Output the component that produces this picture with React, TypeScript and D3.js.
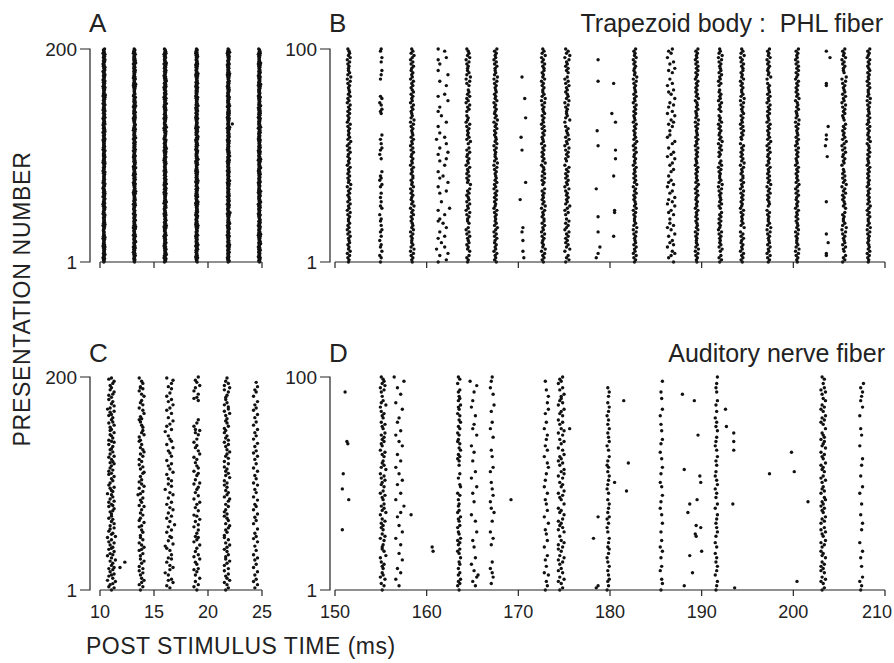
import React from "react";
import * as d3 from "d3";

// each band: centre time (ms), jitter half-width (ms), one character per presentation
// (bottom = presentation 1). "." = no spike, 0-9 = position inside the band.

// A: trapezoid body (PHL) fiber, 200 presentations
const bandsA = [
  { t: 10.37, s: 0.16, code: "4536254735 5463726354 4627354453 3546273645 5364725346 4735263547 5264736452 3647253645 4563724536 5472635473 6354725364 4536274536 5274635427 3645274563 4726354725 5364728354 4637254637 2546374526 6473524637 5364725436" },
  { t: 13.18, s: 0.16, code: "5463547362 4537264538 6354726453 4728364537 5364725463 3547265374 6453728456 4637254736 5273645382 4657364527 3546275364 6374528463 5462735476 4536274653 7354628457 3645723654 5463728354 4726354637 5364528473 6354725364" },
  { t: 16.02, s: 0.16, code: "3647253846 5473625374 4635274653 5372846357 4653726453 3746528364 5463725637 4528364735 6354726453 5473625374 4637258364 5364723546 6473528463 3546274635 5473625384 4637254736 6352746358 4736254637 5364728453 4635274653" },
  { t: 18.95, s: 0.16, code: "6453726453 5374628463 4635274536 5473826354 3647253746 5463728453 4726354637 6354728463 5463726354 4736258463 5364724537 4635274863 5374628354 6453725463 4736258364 5463724536 3647254736 5463728453 4536274653 5473625364" },
  { t: 21.88, s: 0.16, code: "4735264537 5364728463 6453724635 4736258364 5463729453 3647254736 5274635463 4637258354 6354726463 4536274538 5473625364 4637254736 6354728453 5463724637 3746528463 5364725436 4736254637 5463728364 4635274536 6473528364" },
  { t: 24.75, s: 0.16, code: "5364725463 4736254837 5463728364 3647254736 6453725463 4736258463 5374628354 4635274536 5473625384 6354728463 4637254736 5463725364 3746528463 5364724637 4736258354 6453725463 5364728436 4637254736 5463728354 4536274653" },
];
const strayA: [number, number][] = [[22.25, 130]];

// B: same fiber, 150-210 ms, 100 presentations
const bandsB = [
  { t: 151.5, s: 0.28, code: "4536274536 5473625364 4637254736 5364728453 6354725463 4736258364 5463724536 3647253746 5463728364 4536274653" },
  { t: 155.0, s: 0.35, code: "4.53.6.45. 3.5.46.5.4 5.3..64.5. 4.5..46.35 4.6.....5. 3.46.5.4.6 .........5 46.53.64.. .....4.5.6 ...5.6..45" },
  { t: 158.4, s: 0.28, code: "5463728364 4536274653 5374628463 4635274536 6354725463 4736254736 5463728354 3647254637 5364725463 4736258364" },
  { t: 161.7, s: 0.8, code: "27.38.16.4 .26.3.7.52 3.6.29..4. ..37.2.8.3 5.2..6.37. 28.3.7.16. 3..2.7..4. 2.3..8.26. ..7.3..8.2 ..3.27..62" },
  { t: 164.5, s: 0.35, code: "4536.74536 5473625.64 4637254736 53647.8453 6354725463 4736.58364 546372453. 3647253746 5.63728364 4536274653" },
  { t: 167.5, s: 0.28, code: "6354725463 4736258364 5463724536 3647253746 5463728364 4536274653 5374628463 4635274536 5463728354 4736254637" },
  { t: 172.7, s: 0.3, code: "5364728453 4637254736 6354728463 54637.4637 3746528463 5364725436 4736254637 5463728364 4635274536 6473528364" },
  { t: 175.3, s: 0.4, code: "3746.28463 5364724637 4.36258354 6453725463 536472.436 4637254736 5463.28354 4536274653 5473625.64 6354728463" },
  { t: 182.7, s: 0.28, code: "4637254736 5463728364 4536274653 5374628463 6354725463 4736258364 5364725436 3647254736 5463728453 4635274536" },
  { t: 186.6, s: 0.6, code: "7.3586.274 6.38.5274. 4.735.8263 8.46.2735. 3.57.46.82 57.3.68.24 .4.6375.82 6.374.8.53 7.26.4..63 8.47.2.536" },
  { t: 189.45, s: 0.25, code: "5463728364 4536274653 6354725463 4736258364 5364725436 4637254736 5463728354 3746528463 5364724637 4736254637" },
  { t: 192.0, s: 0.3, code: "4736.58364 5463724536 3647.53746 5463728364 45362746.3 5374628463 463527453. 6354725463 4.36254736 5463728354" },
  { t: 194.4, s: 0.3, code: "5364725463 47362.8364 5463724536 4637254736 6354728463 536472.436 4736254637 5463728364 4635274536 6473528364" },
  { t: 197.3, s: 0.3, code: "4637254736 5463728364 45362.4653 5374628463 6354725463 4736258364 5364725436 3647254736 5463.28453 4635274536" },
  { t: 200.4, s: 0.28, code: "5463728364 4536274653 6354725463 4736258364 5364725436 4637254736 5463728354 3746528463 5364724637 4736254637" },
  { t: 205.5, s: 0.35, code: "3647.54736 5463728364 4536.74653 5374628463 6354.25463 4736258364 53647.5436 4637254736 5463728.54 4635274536" },
  { t: 208.2, s: 0.25, code: "4536274653 5463728364 4736258364 6354725463 5364725436 3746528463 4637254736 5463728354 4736254637 5364724637" },
];
const strayB: [number, number][] = [
  [170.4, 87], [170.7, 77], [170.8, 68], [170.3, 59], [170.4, 53], [170.8, 38], [170.2, 30], [170.5, 17], [170.4, 15], [170.5, 11], [170.5, 6], [170.6, 3],
  [178.7, 95], [178.7, 85], [178.6, 62], [178.7, 55], [178.5, 35], [178.7, 22], [178.7, 15], [178.9, 8], [178.7, 5], [178.5, 3],
  [180.4, 84], [180.2, 70], [180.6, 66], [180.6, 53], [180.6, 49], [180.4, 41], [180.5, 25], [180.5, 24], [180.4, 13],
  [203.6, 99], [204.0, 96], [203.6, 84], [203.6, 83], [203.8, 64], [203.6, 60], [203.6, 58], [203.5, 55], [203.7, 50], [203.6, 29], [203.6, 14], [203.8, 10], [203.6, 5], [203.6, 4],
];

// C: auditory nerve fiber, 200 presentations
const bandsC = [
  { t: 11.0, s: 0.55, code: "5.73.46.82 .6.357.4.6 37.5.6.48. 5.264.7.35 6.4.73.5.2 8.56.3.47. 4.7.5.63.5 .5.46.7.36 5.37.4.6.5 2.65.47.3. 4.6.5.7.35 .36.4.5.74 6.5.37.4.6 .45.6.3.75 3.6.54.7.4 5.4.7.36.5 .6.35.47.2 4.7.5.6.3. 5.36.7.4.5 .4.6.7.35." },
  { t: 13.8, s: 0.5, code: "4..6.3.5.7 .5..4.6.3. 6.3..5.7.4 ..4.6..35. 7.5.3..6.4 .4..6.5..3 5..7.3.4.. 6.4..5..73 ..5.4.6..2 4.6..3.7.5 .3.5..4..6 7..4.6.3.. 5.3..6.4.7 .6.4..5..3 4..3.7.5.6 ..6.5..4.3 5.4..7..6. 3..6.4.5.. .7.5..3.64 4..6.5..3." },
  { t: 16.4, s: 0.65, code: "..5.3..7.4 6...4.2..5 .7.5..3..6 4..6...5.3 .2.7..4..6 5...3.6..4 .8..5..3.6 ..4..7.5.. 3.6...4..7 .5..2..6.4 ..6.4...3. 7..5..4.6. .3...6..5. 4..7..3..6 .5..4...2. 6..3.5..7. .4...6..3. 5..7..4.6. .3..5...6. 4..6..7.3." },
  { t: 18.9, s: 0.6, code: "5..3.6..4. .7..4..5.3 6...5.4..7 .3.6..4..5 ..7..3.5.6 4..5..6..3 .6..4.7..5 3...6..4.. 5.7..3..6. .4..5.6..3 7..4...5.6 .3..6.5..4 ..5.3..7.. 6..4.5..3. .5...6.4.7 4..3..5..6 .......... .......6.3 5..6..3..4 .7..5.4..6" },
  { t: 21.7, s: 0.55, code: "4.6..5.3.7 .5.4.6..3. 6..3.5.7.4 .4.6..5.3. 5.7.4..6.3 .3..5.4.6. 7.4..6.5.3 .5.3.4..6. 4..6.7.3.5 .6.4..5.3. 5.3..7.4.6 .4.5.3..6. 3..6.4.5.7 .5..4.6.3. 6.4.5..3.4 .3.6..5.4. 5..4.7.3.6 .6.3.5..4. 4.5..6.3.7 .3.6.4..5." },
  { t: 24.4, s: 0.55, code: "..4..6..3. 5...4..6.. .3..5...4. 6..3...5.. .4...6..3. 5..4...6.. ..3..5..4. .6...3..5. 4...6..3.. .5..4...6. 3...5..4.. .6..3...5. ..4..6..3. 5...4..6.. .3..5..4.. 6...3..5.. .4..6...3. 5..4..6... .3...5.4.. 6...5....." },
];
const strayC: [number, number][] = [[11.85, 22], [12.3, 27]];

// D: auditory nerve fiber, 150-210 ms, 100 presentations
const bandsD = [
  { t: 155.2, s: 0.45, code: "4.63.7254. 5463.28.64 45.6274.53 5374.28463 6.54725.63 47362.8364 5.6472.436 4637.5473. 5463.2835. 4.36274653" },
  { t: 156.9, s: 0.8, code: "..5..3..6. 4...7..5.. .6..3..7.. 5...4.6..8 ..3..6...4 .7..5..3.. 6..4...7.5 ..3.6...4. 5...7..3.. .6..4..8.2" },
  { t: 163.5, s: 0.35, code: "5.3647.46. 4.65.7.536 .4637.54.3 6.547.35.4 5.4.63..76 ..4.6...5. 5364.75.63 4.53.64.75 .63.547.46 5.46..3.64" },
  { t: 165.1, s: 0.65, code: "..6.4.78.5 ..3..6.... 5..4...7.. ..6..3.... .5...4..7. ..3..6.... 4...5..3.. ..7..4.5.. .6...3..4. ..5..7.2.." },
  { t: 167.1, s: 0.45, code: "...4..6.5. 3..5...... .4..6..3.. ..5...7.4. .3..6..5.. 4....3.6.. ..5..4.... .6...3..5. ...4..7... .6..3..4.5" },
  { t: 173.0, s: 0.5, code: "4.6.5..73. .5..4.6... 3..6..5.4. .7..3..6.. 5.4..6..3. .4..5..7.6 ..3..6.4.. 5.6..3..5. ..4.7..6.. 7..5...4.." },
  { t: 174.6, s: 0.7, code: "46.5374.63 5.46374.53 6375.4.736 4536.7453. 7.54637.56 4.63757.46 3547.63.57 4.6375.463 .6457.3645 57.46.3546" },
  { t: 179.8, s: 0.35, code: "3.5.46.5.4 .6.4.3.5.6 4.5.6..4.3 .5.36.4.5. 6.4..5.3.4 .5.6.4.53. 4.6..5.3.6 .5.4.6.4.5 .3.5.6.4.. 5.6.4....." },
  { t: 185.6, s: 0.35, code: "4..6.5...3 .5...4..6. 3..5...4.. .6...5..3. .4..6...5. 3...4..6.. .5..3...4. 6...5..4.. .3..6....5 ..4....6.." },
  { t: 191.6, s: 0.35, code: "4.5.6..3.5 .6.4.5.3.. 5.3..4.6.5 .4.5.6..3. 6..4.5.3.6 .5.3.4..5. 4.6..5.3.4 .5..6.4.5. 3..5..4.6. ..5.4.5..6" },
  { t: 203.2, s: 0.55, code: "46.5374.63 5364.7453. 4637.54736 .3647.5463 5476.3645. 4735.64537 .5463.7456 3654.7.536 47.5364.75 .4736.5.64" },
  { t: 207.4, s: 0.45, code: "4.5.3.6... .5...4..6. ..3.....5. .6...4.... 5....3..6. ...4....5. .6.....3.. ..5..4.... .3...6..4. 5.6.4.7..." },
];
const strayD: [number, number][] = [
  [151.1, 93], [151.3, 70], [151.4, 69], [150.9, 55], [150.8, 48], [151.5, 43], [150.8, 29],
  [158.3, 36], [160.6, 21], [160.7, 19], [169.2, 43], [175.6, 76],
  [178.2, 25], [178.7, 35], [178.5, 2], [178.7, 3],
  [181.5, 89], [182.0, 60], [181.8, 47], [180.5, 51],
  [187.9, 92], [189.2, 89], [189.6, 73], [188.1, 57], [189.8, 54], [189.9, 51], [189.5, 43], [188.7, 41], [188.5, 37],
  [189.4, 31], [189.3, 27], [189.4, 26], [189.9, 30], [188.7, 17], [190.0, 19], [189.0, 9], [188.1, 3],
  [192.6, 85], [192.7, 77], [193.5, 74], [193.5, 70], [193.5, 66], [193.4, 41], [193.6, 2],
  [197.4, 55], [199.8, 65], [200.1, 56], [200.4, 5], [201.6, 42],
];

const ticksShort = [10, 15, 20, 25];
const ticksLong = [150, 160, 170, 180, 190, 200, 210];

const FONT = "'Liberation Sans', Arial, Helvetica, sans-serif";
const W = 894;

type Band = { t: number; s: number; code: string };

function toSpikes(bands: Band[], stray: [number, number][]) {
  const out: { t: number; n: number }[] = [];
  bands.forEach((b) => {
    const c = b.code.replace(/\s+/g, "");
    for (let i = 0; i < c.length; i++) {
      if (c[i] === ".") continue;
      const d = +c[i];
      out.push({ t: b.t + ((d - 4.5) / 4.5) * b.s, n: i + 1 });
    }
  });
  stray.forEach(([t, n]) => out.push({ t, n }));
  return out;
}

function Panel({ left, right, top, bottom, axisX, domain, ticks, trials, bands, stray, labels }: any) {
  const x = d3.scaleLinear().domain(domain).range([left, right]);
  const y = d3.scaleLinear().domain([1, trials]).range([bottom, top]);
  const spikes = toSpikes(bands, stray);
  return (
    <g>
      {spikes.map((d, i) => (
        <circle key={i} cx={x(d.t)} cy={y(d.n)} r={1.7} fill="#111" />
      ))}
      {/* y bracket */}
      <path
        d={`M${axisX - 10},${y(trials)}H${axisX}V${y(1)}H${axisX - 10}`}
        fill="none"
        stroke="#222"
        strokeWidth={1.2}
      />
      {[1, trials].map((v) => (
        <text key={v} x={axisX - 13} y={y(v)} dy="0.36em" textAnchor="end" fontSize={19} fontFamily={FONT} fill="#222">
          {v}
        </text>
      ))}
      {/* x axis */}
      <line x1={x(domain[0])} x2={x(domain[1])} y1={bottom} y2={bottom} stroke="#222" strokeWidth={1.2} />
      {ticks.map((v: number) => (
        <g key={v}>
          <line x1={x(v)} x2={x(v)} y1={bottom} y2={bottom + 6} stroke="#222" strokeWidth={1.2} />
          {labels && (
            <text x={Math.min(x(v), W - 17)} y={bottom + 28} textAnchor="middle" fontSize={18} fontFamily={FONT} fill="#222">
              {v}
            </text>
          )}
        </g>
      ))}
    </g>
  );
}

export default function App() {
  return (
    <svg width={894} height={663} style={{ position: "absolute", left: 0, top: 0, background: "#fff" }}>
      <rect width={894} height={663} fill="#fff" />
      <Panel left={100} right={262} top={49} bottom={262} axisX={90} domain={[10, 25]} ticks={ticksShort} trials={200} bands={bandsA} stray={strayA} labels={false} />
      <Panel left={335} right={885} top={49} bottom={262} axisX={330} domain={[150, 210]} ticks={ticksLong} trials={100} bands={bandsB} stray={strayB} labels={false} />
      <Panel left={100} right={262} top={377} bottom={590} axisX={90} domain={[10, 25]} ticks={ticksShort} trials={200} bands={bandsC} stray={strayC} labels={true} />
      <Panel left={335} right={885} top={377} bottom={590} axisX={330} domain={[150, 210]} ticks={ticksLong} trials={100} bands={bandsD} stray={strayD} labels={true} />

      <g fontFamily={FONT} fill="#222">
        <text x={89} y={32} fontSize={26}>A</text>
        <text x={329} y={32} fontSize={26}>B</text>
        <text x={89} y={362} fontSize={26}>C</text>
        <text x={329} y={362} fontSize={26}>D</text>
        <text x={883} y={32} fontSize={25} textAnchor="end" style={{ whiteSpace: "pre" }}>
          {"Trapezoid body :  PHL fiber"}
        </text>
        <text x={885} y={362} fontSize={25} textAnchor="end">Auditory nerve fiber</text>
        <text transform="translate(30,299) rotate(-90)" textAnchor="middle" fontSize={23} letterSpacing={0.7}>
          PRESENTATION NUMBER
        </text>
        <text x={86} y={654} fontSize={23} letterSpacing={0.5}>POST STIMULUS TIME (ms)</text>
      </g>
    </svg>
  );
}
